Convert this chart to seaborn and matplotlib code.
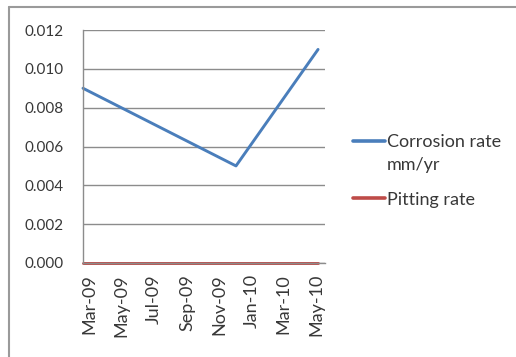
import matplotlib
matplotlib.use("Agg")
import matplotlib.pyplot as plt
import matplotlib.dates as mdates
import matplotlib.transforms as mtransforms
from matplotlib.lines import Line2D
import pandas as pd
import seaborn as sns

# Sampling dates and measured rates
dates = ["2009-03-01", "2009-12-13", "2010-05-16"]
corrosion_rate = [0.009, 0.005, 0.011]
pitting_rate = [0.0, 0.0, 0.0]
series_names = ["Corrosion rate", "Pitting rate"]
series_colors = ["#4A7EBB", "#BE4B48"]
corrosion_unit = "mm/yr"
y_ticks = [0.000, 0.002, 0.004, 0.006, 0.008, 0.010, 0.012]

df = pd.concat([
    pd.DataFrame({"date": pd.to_datetime(dates), "rate": corrosion_rate, "series": series_names[0]}),
    pd.DataFrame({"date": pd.to_datetime(dates), "rate": pitting_rate, "series": series_names[1]}),
], ignore_index=True)

sns.set_style("white")
plt.rcParams["font.family"] = ["Lato", "DejaVu Sans"]
text_color = "#383838"
grid_color = "#8C8C8C"

fig = plt.figure(figsize=(5.16, 3.57), dpi=100)
ax = fig.add_axes([83 / 516, 1 - 263 / 357, (325 - 83) / 516, (263 - 30) / 357])

sns.lineplot(data=df, x="date", y="rate", hue="series", palette=series_colors,
             linewidth=2.1, ax=ax, legend=True, clip_on=False)

ax.set_xlim(pd.Timestamp("2009-03-01"), pd.Timestamp("2010-05-29"))
ax.set_ylim(0, 0.012)
ax.set_yticks(y_ticks)
ax.yaxis.set_major_formatter(matplotlib.ticker.FormatStrFormatter("%.3f"))
ax.xaxis.set_major_locator(mdates.MonthLocator(bymonth=[1, 3, 5, 7, 9, 11]))
ax.xaxis.set_major_formatter(mdates.DateFormatter("%b-%y"))
ax.set_xlabel("")
ax.set_ylabel("")

ax.grid(axis="y", color=grid_color, linewidth=1.0)
ax.grid(axis="x", visible=False)
ax.set_axisbelow(True)
for side in ["top", "right"]:
    ax.spines[side].set_visible(False)
for side in ["left", "bottom"]:
    ax.spines[side].set_color(grid_color)
    ax.spines[side].set_linewidth(1.0)

ax.tick_params(axis="both", which="major", direction="out", length=5, width=1.0,
               color=grid_color, labelcolor=text_color)
ax.tick_params(axis="y", labelsize=11, pad=9)
ax.tick_params(axis="x", labelsize=13, pad=3)
shift = mtransforms.ScaledTranslation(6 / 100, 0, fig.dpi_scale_trans)
for lbl in ax.get_xticklabels():
    lbl.set_rotation(90)
    lbl.set_transform(lbl.get_transform() + shift)

# Legend to the right of the plot area
handles, labels = ax.get_legend_handles_labels()
leg = ax.legend(handles, labels, loc="upper left", bbox_to_anchor=(353 / 516, 1 - 134 / 357),
                bbox_transform=fig.transFigure, frameon=False, fontsize=13,
                handlelength=1.75, handletextpad=0.12, labelspacing=2.3,
                borderaxespad=0, borderpad=0)
for t in leg.get_texts():
    t.set_color(text_color)
for ln in leg.get_lines():
    ln.set_linewidth(2.6)

# Unit line under the first legend label
fig.canvas.draw()
first_bb = leg.get_texts()[0].get_window_extent()
fig.text(first_bb.x0 / fig.bbox.width, 1 - 165 / 357, corrosion_unit,
         fontsize=13, color=text_color, ha="left", va="center")

# Chart frame (left and top edges visible)
fig.add_artist(Line2D([9 / 516, 9 / 516], [0, 1 - 7 / 357], transform=fig.transFigure,
                      color="#9A9A9A", linewidth=1.5))
fig.add_artist(Line2D([9 / 516, 1], [1 - 7 / 357, 1 - 7 / 357], transform=fig.transFigure,
                      color="#9A9A9A", linewidth=1.5))

fig.savefig("out.png", dpi=100)
